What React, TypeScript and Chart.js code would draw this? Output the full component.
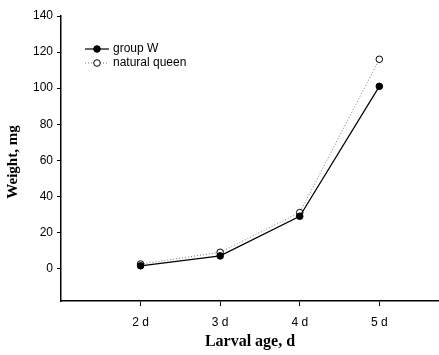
import React, { useEffect, useRef } from "react";
import { Chart, registerables } from "chart.js";

Chart.register(...registerables);

const ageLabels = ["2 d", "3 d", "4 d", "5 d"];
const agePositions = [2, 3, 4, 5];
const groupW = [1.5, 7, 29, 101];
const naturalQueen = [2.5, 9, 31, 116];
const yTicks = [0, 20, 40, 60, 80, 100, 120, 140];
const yTitle = "Weight, mg";
const xTitle = "Larval age, d";

const titleFontCss = "bold 15px 'Liberation Serif', 'Times New Roman', serif";

const legendPlugin = {
  id: "customLegend",
  afterDraw(chart: any) {
    const ctx = chart.ctx;
    ctx.save();
    const rows = [
      { label: "group W", y: 49, dash: [] as number[], color: "#000", fill: "#000", lw: 1.2 },
      { label: "natural queen", y: 63, dash: [1, 2], color: "#777", fill: "#fff", lw: 1 },
    ];
    for (const r of rows) {
      ctx.beginPath();
      ctx.setLineDash(r.dash);
      ctx.strokeStyle = r.color;
      ctx.lineWidth = r.lw;
      ctx.moveTo(85, r.y);
      ctx.lineTo(109, r.y);
      ctx.stroke();
      ctx.setLineDash([]);
      ctx.beginPath();
      ctx.arc(97, r.y, 3.3, 0, Math.PI * 2);
      ctx.fillStyle = r.fill;
      ctx.fill();
      ctx.strokeStyle = "#000";
      ctx.lineWidth = 1;
      ctx.stroke();
      ctx.fillStyle = "#000";
      ctx.font = "12px 'Liberation Sans', Arial, sans-serif";
      ctx.textBaseline = "middle";
      ctx.textAlign = "left";
      ctx.fillText(r.label, 113, r.y);
    }
    // y-axis title
    ctx.translate(13, 162);
    ctx.rotate(-Math.PI / 2);
    ctx.font = titleFontCss;
    ctx.textAlign = "center";
    ctx.textBaseline = "middle";
    ctx.fillText(yTitle, 0, 0);
    ctx.restore();
  },
};

export default function App() {
  const ref = useRef<HTMLCanvasElement>(null);
  useEffect(() => {
    document.body.style.margin = "0";
    const tickFont = { family: "'Liberation Sans', Arial, sans-serif", size: 12 };
    const titleFont = { family: "'Liberation Serif', 'Times New Roman', serif", size: 16, weight: "bold" as const };
    const chart = new Chart(ref.current!, {
      type: "line",
      data: {
        datasets: [
          {
            label: "group W",
            data: agePositions.map((x, i) => ({ x, y: groupW[i] })),
            borderColor: "#000",
            backgroundColor: "#000",
            borderWidth: 1.2,
            pointRadius: 3.3,
            pointBackgroundColor: "#000",
            pointBorderColor: "#000",
            pointBorderWidth: 1,
          },
          {
            label: "natural queen",
            data: agePositions.map((x, i) => ({ x, y: naturalQueen[i] })),
            borderColor: "#777",
            backgroundColor: "#fff",
            borderWidth: 1,
            borderDash: [1, 2],
            pointRadius: 3.3,
            pointBackgroundColor: "#fff",
            pointBorderColor: "#000",
            pointBorderWidth: 1,
          },
        ],
      },
      options: {
        animation: false,
        responsive: false,
        maintainAspectRatio: false,
        layout: { autoPadding: false, padding: { top: 16, right: 0, left: 0, bottom: 0 } },
        plugins: { legend: { display: false }, tooltip: { enabled: false } },
        scales: {
          x: {
            type: "linear",
            min: 1,
            max: 5.75,
            afterBuildTicks: (s: any) => {
              s.ticks = agePositions.map((v) => ({ value: v }));
            },
            afterFit: (s: any) => {
              s.height = 54;
              s.paddingLeft = 0;
              s.paddingRight = 0;
            },
            ticks: {
              font: tickFont,
              color: "#000",
              padding: 9,
              maxRotation: 0,
              callback: (v: any) => {
                const i = agePositions.indexOf(Number(v));
                return i >= 0 ? ageLabels[i] : "";
              },
            },
            grid: { display: true, drawOnChartArea: false, drawTicks: true, tickLength: 5, color: "#000", lineWidth: 1 },
            border: { display: true, color: "#000", width: 1.5 },
            title: { display: true, text: xTitle, font: titleFont, color: "#000", padding: { top: 0, bottom: 4 } },
          },
          y: {
            type: "linear",
            min: -18,
            max: 140,
            afterBuildTicks: (s: any) => {
              s.ticks = yTicks.map((v) => ({ value: v }));
            },
            afterFit: (s: any) => {
              s.width = 61;
              s.paddingTop = 0;
              s.paddingBottom = 0;
            },
            ticks: { font: tickFont, color: "#000", padding: 4 },
            grid: { display: true, drawOnChartArea: false, drawTicks: true, tickLength: 4, color: "#000", lineWidth: 1 },
            border: { display: true, color: "#000", width: 1.5 },
            title: { display: false },
          },
        },
      },
      plugins: [legendPlugin],
    });
    return () => chart.destroy();
  }, []);
  return (
    <div style={{ width: 439, height: 355, background: "#fff" }}>
      <canvas ref={ref} width={439} height={355} style={{ display: "block" }} />
    </div>
  );
}
